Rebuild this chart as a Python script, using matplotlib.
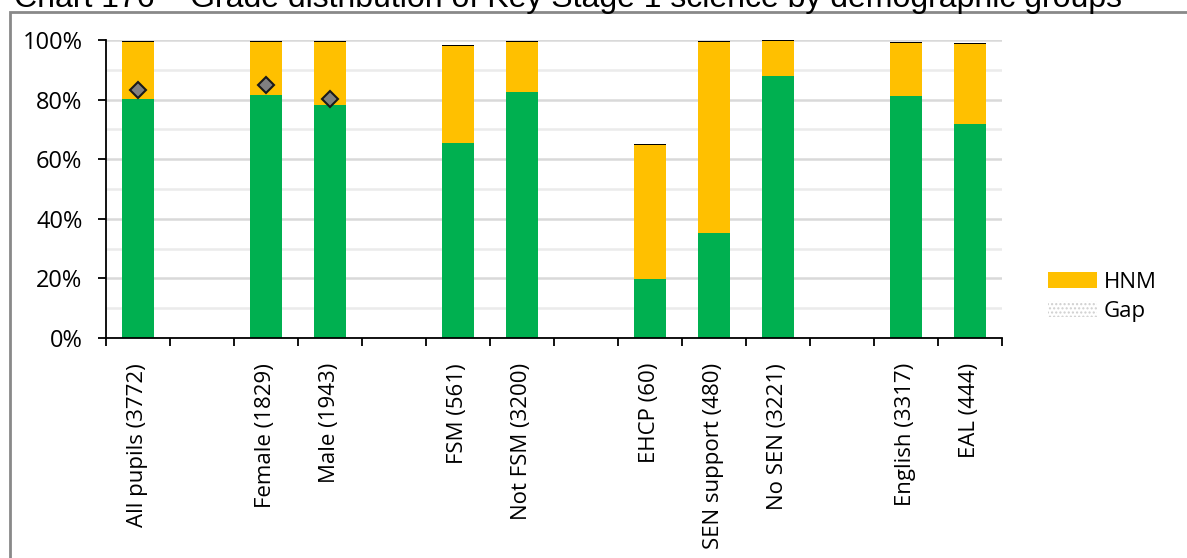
import numpy as np
import matplotlib
matplotlib.use("Agg")
import matplotlib.pyplot as plt
from matplotlib.patches import Patch, Rectangle

# Groups (blank slots separate the demographic blocks)
categories = ["All pupils (3772)", "", "Female (1829)", "Male (1943)", "",
              "FSM (561)", "Not FSM (3200)", "", "EHCP (60)", "SEN support (480)",
              "No SEN (3221)", "", "English (3317)", "EAL (444)"]
nan = np.nan
expected = [80.3, nan, 81.7, 78.3, nan, 65.6, 82.5, nan, 19.8, 35.4, 88.0, nan, 81.2, 71.8]
hnm = [18.9, nan, 17.6, 20.9, nan, 32.4, 16.9, nan, 44.8, 63.9, 11.6, nan, 17.8, 26.9]
other = [0.4, nan, 0.4, 0.4, nan, 0.4, 0.4, nan, 0.4, 0.4, 0.4, nan, 0.4, 0.4]
gap = [83.3, nan, 85.0, 80.1, nan, nan, nan, nan, nan, nan, nan, nan, nan, nan]

GREEN = "#00b050"
YELLOW = "#ffc000"
FONT = "Open Sans"
FS = 16

W, H = 1187, 558
fig = plt.figure(figsize=(W / 100, H / 100), dpi=100)
ax = fig.add_axes([106 / W, 1 - 338 / H, 896 / W, 298 / H])

x = np.arange(len(categories))
exp = np.array(expected, dtype=float)
hn = np.array(hnm, dtype=float)
ot = np.array(other, dtype=float)
ax.bar(x, exp, width=0.5, color=GREEN, zorder=3)
ax.bar(x, hn, width=0.5, bottom=exp, color=YELLOW, zorder=3)
ax.bar(x, ot, width=0.5, bottom=exp + hn, color="black", zorder=3)
ax.plot(x, gap, linestyle="none", marker="D", markersize=8, markerfacecolor="#808080",
        markeredgecolor="#1a1a1a", markeredgewidth=1.5, zorder=4)

ax.set_xlim(-0.5, len(categories) - 0.5)
ax.set_ylim(0, 100)

# y axis
ax.set_yticks(np.arange(0, 101, 20))
ax.set_yticks(np.arange(10, 100, 20), minor=True)
ax.set_yticklabels([f"{v}%" for v in range(0, 101, 20)], fontsize=17, family=FONT)
ax.tick_params(axis="y", which="major", direction="out", length=6, width=1.3, pad=11)
ax.tick_params(axis="y", which="minor", length=0)
ax.grid(axis="y", which="major", color="#d9d9d9", linewidth=1.8, zorder=0)
ax.grid(axis="y", which="minor", color="#ebebeb", linewidth=1.8, zorder=0)

# x axis: labels centred, ticks between slots
ax.set_xticks(x)
ax.set_xticklabels(categories, rotation=90, fontsize=FS, family=FONT)
ax.set_xticks(np.arange(-0.5, len(categories)), minor=True)
ax.tick_params(axis="x", which="major", length=0, pad=18)
ax.tick_params(axis="x", which="minor", direction="out", length=6, width=1.3)

for side in ["top", "right"]:
    ax.spines[side].set_visible(False)
for side in ["left", "bottom"]:
    ax.spines[side].set_linewidth(1.3)
    ax.spines[side].set_zorder(5)

handles = [Patch(facecolor=YELLOW, label="HNM"),
           Patch(facecolor="white", edgecolor="#cfcfcf", hatch="....", linewidth=0, label="Gap")]
fig.legend(handles=handles, loc="upper left", bbox_to_anchor=(1028 / W, 1 - 252 / H),
           frameon=False, prop={"family": FONT, "size": FS}, handlelength=2.2,
           handleheight=0.75, handletextpad=0.3, labelspacing=0.35)

# chart frame (partially cropped) and cropped title
fig.add_artist(Rectangle((10 / W, -0.1), 2, 1 - 12 / H + 0.1, transform=fig.transFigure,
                         fill=False, edgecolor="#898989", linewidth=2))
fig.text(14 / W, 1 - 7 / H, "Chart 176 \u2013 Grade distribution of Key Stage 1 science by demographic groups",
         family="Liberation Sans", fontsize=23, va="baseline", ha="left")

fig.savefig("out.png", dpi=100)
